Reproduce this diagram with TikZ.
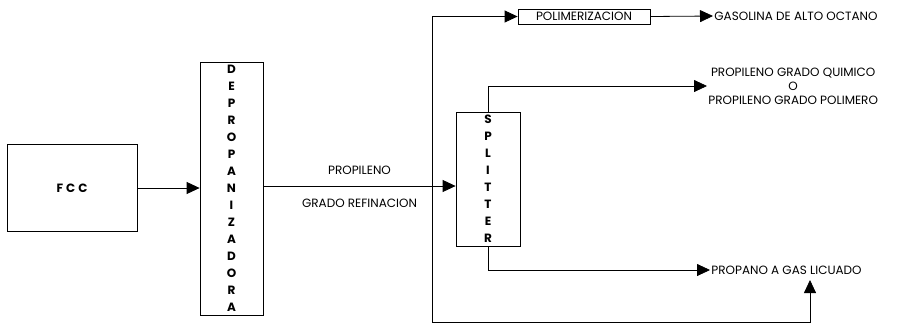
\documentclass[tikz,border=0pt]{standalone}
\usepackage{fontspec}
\setmainfont{Poppins}
\usetikzlibrary{arrows.meta, positioning, calc}
\newcommand{\lbl}{\fontsize{12}{14}\selectfont}
\newcommand{\vlbl}{\fontsize{12}{17}\selectfont\bfseries}

\begin{document}
\begin{tikzpicture}[x=1pt, y=-1pt, line width=0.8pt,
    >={Triangle[length=13pt, width=12pt]},
    unit/.style={draw, inner sep=0pt, font=\vlbl, align=center},
    stream/.style={inner sep=1pt, font=\lbl, align=center}]
  \useasboundingbox (0,0) rectangle (916,325);
  % ── Units ──
  \node[unit, minimum width=130pt, minimum height=87pt] (fcc) at (72,188)
    {F\hspace{3pt}C\hspace{3pt}C};
  \node[unit, minimum width=63pt, minimum height=253pt] (dep) at (231.5,188.5)
    {D\\E\\P\\R\\O\\P\\A\\N\\I\\Z\\A\\D\\O\\R\\A};
  \node[unit, minimum width=64pt, minimum height=134pt] (split) at (488,179)
    {S\\P\\L\\I\\T\\T\\E\\R};
  \node[unit, font=\lbl, minimum width=132pt, minimum height=15pt] (polim)
    at (584,16.5) {POLIMERIZACION};
  % ── Products ──
  \node[stream, anchor=west] (gas) at (713,16) {GASOLINA DE ALTO OCTANO};
  \node[stream, anchor=west] (quim) at (707,86)
    {PROPILENO GRADO QUIMICO\\O\\PROPILENO GRADO POLIMERO};
  \node[stream, anchor=west] (lpg) at (710,270) {PROPANO A GAS LICUADO};
  % ── Branch points ──
  \coordinate (branch) at (432,186);
  \coordinate (bot) at (432,322);
  \coordinate (lpgin) at (810,280);
  % ── Streams ──
  \draw[->] (fcc.east) -- (fcc.east -| dep.west);
  \draw[->] (dep.east |- branch) -- (split.west |- branch)
    node[midway, above=11pt, inner sep=0pt, font=\lbl] {PROPILENO}
    node[midway, below=13pt, inner sep=0pt, font=\lbl] {GRADO REFINACION};
  \draw[->] (branch) |- (polim.west);
  \draw[->] (polim.east) -- (gas.west);
  \draw[->] (split.north) |- (quim.west);
  \draw[->] (split.south) |- (lpg.west);
  \draw[->] (branch) -- (bot) -| (lpgin);
\end{tikzpicture}
\end{document}
